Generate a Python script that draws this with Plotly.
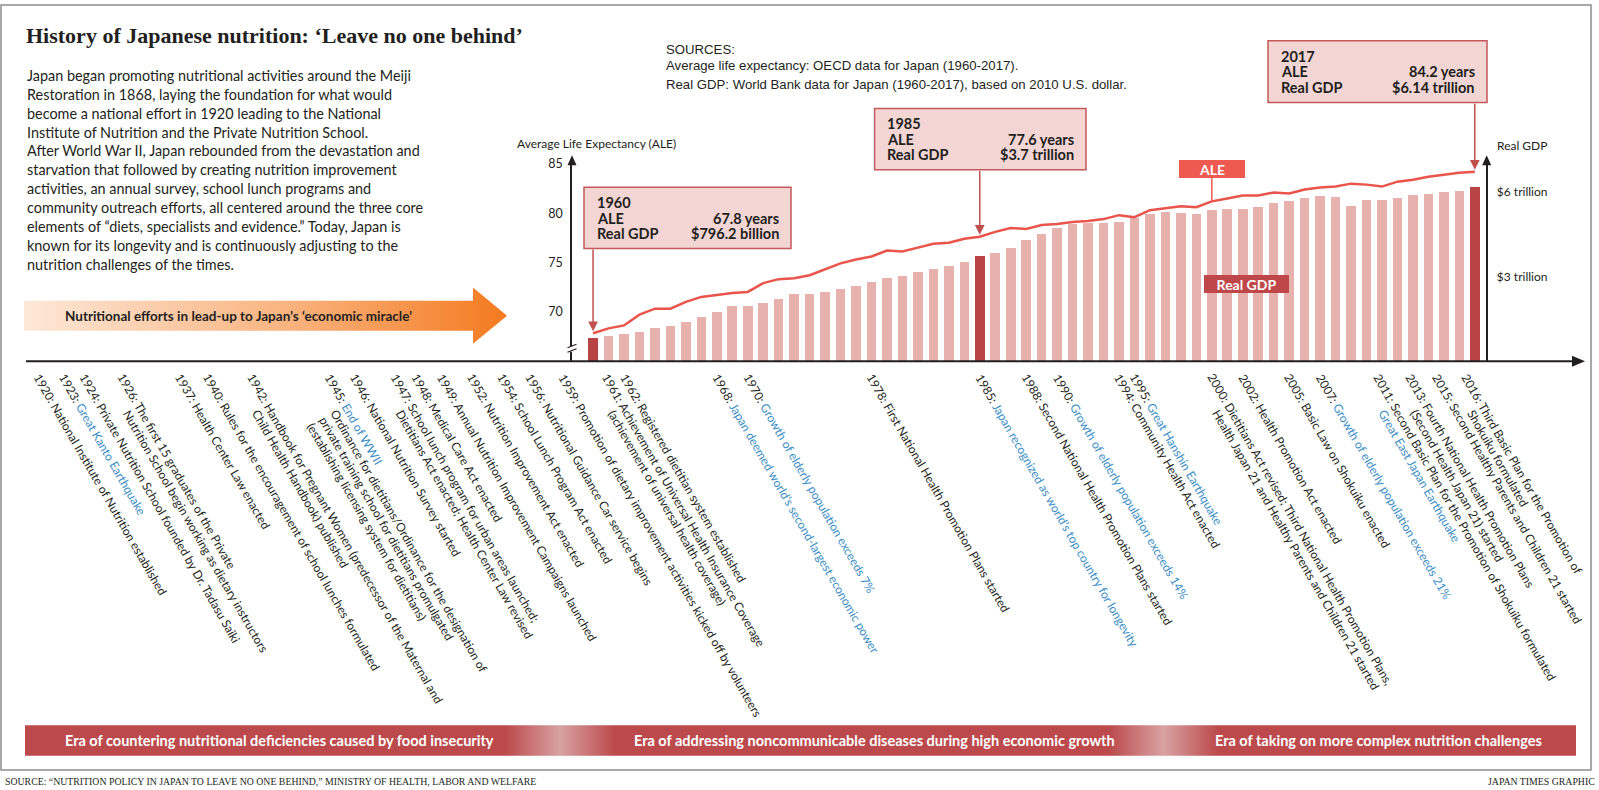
import math
import plotly.graph_objects as go

W, H = 1599, 790


def px(x):
    return x / W


def py(y):
    return 1 - y / H


# ---------------- data ----------------
years = list(range(1960, 2018))
ale = [67.8, 68.3, 68.6, 69.7, 70.3, 70.3, 71.0, 71.5, 71.7, 71.9,
       72.0, 72.9, 73.3, 73.4, 73.7, 74.3, 74.9, 75.3, 75.6, 76.2,
       76.1, 76.5, 76.9, 77.0, 77.4, 77.6, 78.1, 78.5, 78.4, 78.8,
       78.9, 79.1, 79.2, 79.4, 79.8, 79.6, 80.3, 80.5, 80.7, 80.6,
       81.2, 81.5, 81.8, 81.8, 82.1, 82.0, 82.4, 82.6, 82.7, 83.0,
       82.9, 82.7, 83.2, 83.4, 83.7, 83.9, 84.1, 84.2]
gdp = [0.796, 0.89, 0.96, 1.04, 1.17, 1.24, 1.37, 1.54, 1.72, 1.95,
       1.95, 2.04, 2.20, 2.38, 2.36, 2.43, 2.54, 2.64, 2.79, 2.93,
       3.01, 3.14, 3.24, 3.36, 3.52, 3.70, 3.81, 3.99, 4.27, 4.48,
       4.69, 4.85, 4.90, 4.87, 4.91, 5.06, 5.21, 5.28, 5.22, 5.20,
       5.35, 5.37, 5.37, 5.46, 5.58, 5.67, 5.76, 5.84, 5.79, 5.48,
       5.70, 5.69, 5.78, 5.89, 5.91, 5.98, 6.03, 6.14]
highlight_years = [1960, 1985, 2017]
callout_ale = ["67.8 years", "77.6 years", "84.2 years"]
callout_gdp = ["$796.2 billion", "$3.7 trillion", "$6.14 trillion"]
ale_ticks = [70, 75, 80, 85]
gdp_ticks = [3, 6]
gdp_ticktext = ["$3 trillion", "$6 trillion"]
ale_label_year = 2000

eras = ["Era of countering nutritional deficiencies caused by food insecurity",
        "Era of addressing noncommunicable diseases during high economic growth",
        "Era of taking on more complex nutrition challenges"]

intro_lines = [
    "Japan began promoting nutritional activities around the Meiji",
    "Restoration in 1868, laying the foundation for what would",
    "become a national effort in 1920 leading to the National",
    "Institute of Nutrition and the Private Nutrition School.",
    "After World War II, Japan rebounded from the devastation and",
    "starvation that followed by creating nutrition improvement",
    "activities, an annual survey, school lunch programs and",
    "community outreach efforts, all centered around the three core",
    "elements of \u201cdiets, specialists and evidence.\u201d Today, Japan is",
    "known for its longevity and is continuously adjusting to the",
    "nutrition challenges of the times.",
]

source_lines = ["SOURCES:",
                "Average life expectancy: OECD data for Japan (1960-2017).",
                "Real GDP: World Bank data for Japan (1960-2017), based on 2010 U.S. dollar."]

# [ ... ] marks world events (blue)
pre_events = [
    ("1920", ["National Institute of Nutrition established"]),
    ("1923", ["[Great Kanto Earthquake]"]),
    ("1924", ["Private Nutrition School founded by Dr. Tadasu Saiki"]),
    ("1926", ["The first 15 graduates of the Private",
              "Nutrition School begin working as dietary instructors"]),
    ("1937", ["Health Center Law enacted"]),
    ("1940", ["Rules for the encouragement of school lunches formulated"]),
    ("1942", ["Handbook for Pregnant Women (predecessor of the Maternal and",
              "Child Health Handbook) published"]),
    ("1945", ["[End of WWII]",
              "Ordinance for dietitians/Ordinance for the designation of",
              "private training school for dietitians promulgated",
              "(establishing licensing system for dietitians)"]),
    ("1946", ["National Nutrition Survey started"]),
    ("1947", ["School lunch program for urban areas launched;",
              "Dietitians Act enacted; Health Center Law revised"]),
    ("1948", ["Medical Care Act enacted"]),
    ("1949", ["Annual Nutrition Improvement Campaigns launched"]),
    ("1952", ["Nutrition Improvement Act enacted"]),
    ("1954", ["School Lunch Program Act enacted"]),
    ("1956", ["Nutritional Guidance Car service begins"]),
    ("1959", ["Promotion of dietary improvement activities kicked off by volunteers"]),
]
# label slots (px) for pre-1960 events on the compressed part of the timeline
pre_slots = [36.7, 61.7, 82.7, 120.7, 178, 206, 250, 328, 353, 393, 415, 440, 470, 500, 528, 561.7]

post_events = [
    (1961, ["Achievement of Universal Health Insurance Coverage",
            "(achievement of universal health coverage)"]),
    (1962, ["Registered dietitian system established"]),
    (1968, ["[Japan deemed world\u2019s second-largest economic power]"]),
    (1970, ["[Growth of elderly population exceeds 7%]"]),
    (1978, ["First National Health Promotion Plans started"]),
    (1985, ["[Japan recognized as world\u2019s top country for longevity]"]),
    (1988, ["Second National Health Promotion Plans started"]),
    (1990, ["[Growth of elderly population exceeds 14%]"]),
    (1994, ["Community Health Act enacted"]),
    (1995, ["[Great Hanshin Earthquake]"]),
    (2000, ["Dietitians Act revised; Third National Health Promotion Plans,",
            "Health Japan 21 and Healthy Parents and Children 21 started"]),
    (2002, ["Health Promotion Act enacted"]),
    (2005, ["Basic Law on Shokuiku enacted"]),
    (2007, ["[Growth of elderly population exceeds 21%]"]),
    (2011, ["Second Basic Plan for the Promotion of Shokuiku formulated",
            "[Great East Japan Earthquake]"]),
    (2013, ["Fourth National Health Promotion Plans",
            "(Second Health Japan 21) started"]),
    (2015, ["Second Healthy Parents and Children 21 started"]),
    (2016, ["Third Basic Plan for the Promotion of",
            "Shokuiku formulated"]),
]
# small pixel nudges for crowded labels (layout only)
label_nudge = {1961: -2, 2011: -4, 2013: -3, 2015: -7.5, 2016: 7}

# ---------------- style / layout constants ----------------
FONT = "Lato, sans-serif"
INK = "#231F20"
BLUE = "#3A8DC5"
LINE_RED = "#E9544B"
BAR_LIGHT = "#E7B1AD"
BAR_DARK = "#B94446"
BOX_FILL = "#F3D6D3"
BOX_LINE = "#C4585A"

X0_PX, X1_PX = 572, 1584          # plot area (px)
YB_PX, YT_PX = 359, 157
X_RANGE = [1958.64, 2024.06]
ALE_RANGE = [64.97, 85.38]
GDP_RANGE = [0, 7.113]
GDP_AXIS_PX = 1486.7


def ale_px(v):
    return YB_PX - (v - ALE_RANGE[0]) / (ALE_RANGE[1] - ALE_RANGE[0]) * (YB_PX - YT_PX)


fig = go.Figure()

# ---------------- main chart ----------------
bar_colors = [BAR_DARK if y in highlight_years else BAR_LIGHT for y in years]
fig.add_trace(go.Bar(x=years, y=gdp, yaxis="y", xaxis="x", width=0.62,
                     marker=dict(color=bar_colors, line=dict(width=0)),
                     hoverinfo="skip"))
fig.add_trace(go.Scatter(x=years, y=ale, yaxis="y2", xaxis="x", mode="lines",
                         line=dict(color=LINE_RED, width=2.5), hoverinfo="skip"))

# ---------------- canvas decorations (gradient fills) ----------------
arrow_x = [24, 473, 473, 507, 473, 473, 24, 24]
arrow_y = [298.3, 298.3, 285, 313.3, 341.6, 328.3, 328.3, 298.3]
fig.add_trace(go.Scatter(x=arrow_x, y=arrow_y, xaxis="x2", yaxis="y3", mode="lines",
                         fill="toself", line=dict(width=0, color="rgba(0,0,0,0)"),
                         fillgradient=dict(type="horizontal",
                                           colorscale=[[0, "#FDE8D8"], [0.55, "#F9B37E"], [1, "#F47A1F"]]),
                         hoverinfo="skip"))
ERA_X0, ERA_X1, ERA_Y0, ERA_Y1 = 25, 1576, 725, 755.7
d1, d2, hw = 0.345, 0.734, 0.035
DARK_ERA, LIGHT_ERA = "#BC4A4C", "#D9A2A2"
fig.add_trace(go.Scatter(x=[ERA_X0, ERA_X1, ERA_X1, ERA_X0, ERA_X0],
                         y=[ERA_Y0, ERA_Y0, ERA_Y1, ERA_Y1, ERA_Y0],
                         xaxis="x2", yaxis="y3", mode="lines", fill="toself",
                         line=dict(width=0, color="rgba(0,0,0,0)"),
                         fillgradient=dict(type="horizontal", colorscale=[
                             [0, DARK_ERA], [d1 - hw, DARK_ERA], [d1, LIGHT_ERA], [d1 + hw, DARK_ERA],
                             [d2 - hw, DARK_ERA], [d2, LIGHT_ERA], [d2 + hw, DARK_ERA], [1, DARK_ERA]]),
                         hoverinfo="skip"))

shapes = []
annotations = []


def text(x, y, t, size, color=INK, family=FONT, xanchor="left", yanchor="middle", **kw):
    annotations.append(dict(x=px(x), y=py(y), xref="paper", yref="paper", text=t,
                            showarrow=False, xanchor=xanchor, yanchor=yanchor,
                            font=dict(family=family, size=size, color=color), **kw))


# frame
shapes.append(dict(type="rect", xref="paper", yref="paper", x0=px(1), x1=px(1591), y0=py(1), y1=py(770),
                   line=dict(color="#8C8C8C", width=1.5), layer="below"))

# title, intro
text(24, 31.5, "<b>History of Japanese nutrition: \u2018Leave no one behind\u2019</b>", 22,
     family="Liberation Serif, serif")
for i, ln in enumerate(intro_lines):
    text(25, 71.7 + 19 * i, ln, 14.4)

text(239, 313.3, "<b>Nutritional efforts in lead-up to Japan\u2019s \u2018economic miracle\u2019</b>", 13.5,
     xanchor="center")

# sources
SRC_FONT = "Liberation Sans, Arial, sans-serif"
text(664, 46, source_lines[0], 13.2, family=SRC_FONT)
text(664, 62, source_lines[1], 13.2, family=SRC_FONT)
text(664, 81, source_lines[2], 13.2, family=SRC_FONT)

# axis titles
text(515, 140, "Average Life Expectancy (ALE)", 12)
text(1495, 142.7, "Real GDP", 12)

# x baseline + arrowheads
shapes.append(dict(type="line", xref="paper", yref="paper", x0=px(26), x1=px(1576), y0=py(359), y1=py(359),
                   line=dict(color=INK, width=2)))
shapes.append(dict(type="path", xref="paper", yref="paper",
                   path=f"M {px(1585)} {py(359)} L {px(1572)} {py(353.5)} L {px(1572)} {py(364.5)} Z",
                   fillcolor=INK, line=dict(width=0)))
for ax_x in (X0_PX, GDP_AXIS_PX):
    shapes.append(dict(type="path", xref="paper", yref="paper",
                       path=f"M {px(ax_x)} {py(152)} L {px(ax_x - 4.5)} {py(162)} L {px(ax_x + 4.5)} {py(162)} Z",
                       fillcolor=INK, line=dict(width=0)))
# axis break mark
shapes.append(dict(type="rect", xref="paper", yref="paper", x0=px(569), x1=px(575), y0=py(344), y1=py(349.5),
                   fillcolor="white", line=dict(width=0)))
for yb in (345.5, 350):
    shapes.append(dict(type="line", xref="paper", yref="paper", x0=px(567.5), x1=px(576.5),
                       y0=py(yb), y1=py(yb - 3.5), line=dict(color=INK, width=1.2)))

# callout boxes
boxes = [(584, 184.3, 791, 245.7), (874.6, 105, 1086, 166.7), (1268, 37, 1487, 99)]
for (x0, y0, x1, y1), yr, a_txt, g_txt in zip(boxes, highlight_years, callout_ale, callout_gdp):
    shapes.append(dict(type="rect", xref="paper", yref="paper", x0=px(x0), x1=px(x1), y0=py(y0), y1=py(y1),
                       fillcolor=BOX_FILL, line=dict(color=BOX_LINE, width=1.5)))
    text(x0 + 10.5, y0 + 15.5, f"<b>{yr}</b>", 14.5)
    text(x0 + 10.5, y0 + 31, "<b>ALE</b>", 14.5)
    text(x0 + 10.5, y0 + 46.5, "<b>Real GDP</b>", 14.5)
    text(x1 - 10.5, y0 + 31, f"<b>{a_txt}</b>", 14.5, xanchor="right")
    text(x1 - 10.5, y0 + 46.5, f"<b>{g_txt}</b>", 14.5, xanchor="right")
    v = ale[years.index(yr)]
    annotations.append(dict(x=yr, y=v, xref="x", yref="y2", text="", showarrow=True,
                            ax=0, ay=y1 - ale_px(v), axref="pixel", ayref="pixel",
                            arrowhead=2, arrowsize=1.3, arrowwidth=1.5, arrowcolor="#C0504D",
                            standoff=2))

# series labels
v = ale[years.index(ale_label_year)]
annotations.append(dict(x=ale_label_year, y=v, xref="x", yref="y2", text="<b>ALE</b>", showarrow=True,
                        ax=0, ay=165.8 - ale_px(v), arrowhead=0, arrowwidth=1.5, arrowcolor="#EE5A4F",
                        standoff=0, bgcolor="#EE5A4F", borderpad=2, borderwidth=0, width=62, height=14,
                        font=dict(family=FONT, size=14, color="white")))
text(1246.5, 281, "<b>Real GDP</b>", 14, color="white", xanchor="center",
     bgcolor="#BF474A", borderpad=2, borderwidth=0, width=81, height=14)

# eras
for cx, t in zip([279, 875, 1378], eras):
    text(cx, 740.5, f"<b>{t}</b>", 14.5, color="white", xanchor="center")

# footer
text(3, 781, "SOURCE: \u201cNUTRITION POLICY IN JAPAN TO LEAVE NO ONE BEHIND,\u201d MINISTRY OF HEALTH, LABOR AND WELFARE",
     9.8, family="Liberation Serif, serif")
text(1597, 781, "JAPAN TIMES GRAPHIC", 9.8, family="Liberation Serif, serif", xanchor="right")

# ---------------- timeline labels ----------------
TL_FS = 12
TL_LH = 13.5
S60, C60 = math.sin(math.radians(60)), math.cos(math.radians(60))
BOX_H = 1.2 * TL_FS
TOP_PX = 369


def fmt(line):
    return line.replace("[", f'<span style="color:{BLUE}">').replace("]", "</span>")


def add_event(xval, xref, label, lines, extra):
    for k, line in enumerate(lines):
        if k == 0:
            t = f"{label}: " + fmt(line)
        else:
            t = f'<span style="color:rgba(0,0,0,0)">{label}: </span>' + fmt(line)
        annotations.append(dict(x=xval, xref=xref, y=py(TOP_PX + k * TL_LH * C60), yref="paper",
                                text=t, textangle=60, showarrow=False, xanchor="left", yanchor="top",
                                xshift=-BOX_H * S60 + extra - k * TL_LH * S60,
                                font=dict(family=FONT, size=TL_FS, color=INK),
                                borderpad=0, borderwidth=0, align="left"))


for slot, (lab, lines) in zip(pre_slots, pre_events):
    add_event(px(slot), "paper", lab, lines, 6.5)
for yr, lines in post_events:
    add_event(yr, "x", str(yr), lines, 5.0 + label_nudge.get(yr, 0))

fig.update_layout(
    width=W, height=H, margin=dict(l=0, r=0, t=0, b=0),
    paper_bgcolor="white", plot_bgcolor="rgba(0,0,0,0)", showlegend=False,
    bargap=0,
    xaxis=dict(domain=[px(X0_PX), px(X1_PX)], range=X_RANGE, visible=False, fixedrange=True),
    yaxis=dict(domain=[py(YB_PX), py(YT_PX)], range=GDP_RANGE, anchor="free", position=px(GDP_AXIS_PX),
               side="right", showline=True, linecolor=INK, linewidth=1.5, showgrid=False, zeroline=False,
               tickvals=gdp_ticks, ticktext=gdp_ticktext, ticks="", ticklabelstandoff=7,
               tickfont=dict(family=FONT, size=12, color=INK)),
    yaxis2=dict(overlaying="y", anchor="x", side="left", range=ALE_RANGE, showline=True, linecolor=INK,
                linewidth=1.5, showgrid=False, zeroline=False, tickvals=ale_ticks, ticks="",
                ticklabelstandoff=5, tickfont=dict(family=FONT, size=12.5, color=INK)),
    xaxis2=dict(domain=[0, 1], range=[0, W], visible=False, fixedrange=True),
    yaxis3=dict(domain=[0, 1], range=[H, 0], visible=False, anchor="x2", fixedrange=True),
    shapes=shapes,
    annotations=annotations,
)

fig.write_html("out.html", config={"displayModeBar": False},
               post_script="document.body.style.margin='0';document.body.style.overflow='hidden';")
